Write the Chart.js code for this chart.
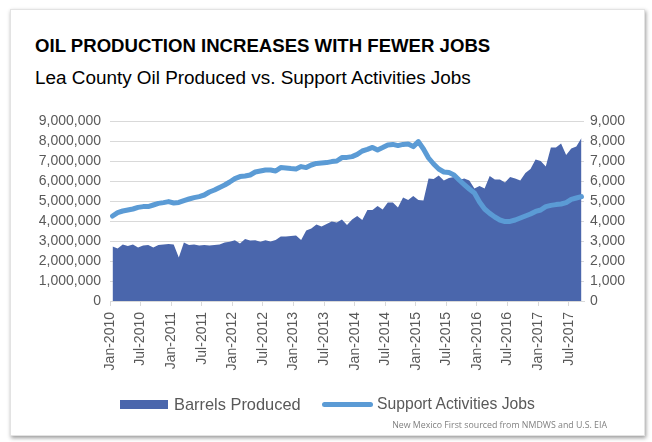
<!DOCTYPE html>
<html>
<head>
<meta charset="utf-8">
<script src="https://cdn.jsdelivr.net/npm/chart.js@4.4.1/dist/chart.umd.min.js"></script>
<style>
  html, body { margin:0; padding:0; background:#ffffff; }
  body { width:652px; height:442px; position:relative; overflow:hidden; font-family:"Liberation Sans", Arial, sans-serif; }
  #card { position:absolute; left:10px; top:9px; width:633px; height:425px; background:#fff; border:1px solid #e3e3e3; box-shadow:1px 2px 4px rgba(0,0,0,0.4); }
  .txt { position:absolute; white-space:nowrap; line-height:1; }
  #title { left:35px; top:36.5px; font-size:18.6px; font-weight:bold; color:#000; }
  #subtitle { left:35px; top:69px; font-size:18.9px; color:#000; }
  #wrap { position:absolute; left:0; top:0; width:652px; height:442px; }
  #legend { position:absolute; left:0; top:396px; width:652px; height:20px; font-size:16px; color:#595959; }
  .sw { position:absolute; }
  #source { right:45px; top:420.5px; font-family:"Open Sans", sans-serif; font-size:8.8px; color:#808080; }
</style>
</head>
<body>
<div id="card"></div>
<div id="title" class="txt">OIL PRODUCTION INCREASES WITH FEWER JOBS</div>
<div id="subtitle" class="txt">Lea County Oil Produced vs. Support Activities Jobs</div>
<div id="wrap"><canvas id="c" width="652" height="442"></canvas></div>
<div id="legend">
  <div class="sw" style="left:120px; top:4px; width:48px; height:9px; background:#4a66ac;"></div>
  <div class="txt" style="left:174px; top:0px; font-size:16.4px;">Barrels Produced</div>
  <div class="sw" style="left:322px; top:6px; width:51px; height:5px; border-radius:3px; background:#5b9bd5;"></div>
  <div class="txt" style="left:377px; top:0px; font-size:15.7px;">Support Activities Jobs</div>
</div>
<div id="source" class="txt">New Mexico First sourced from NMDWS and U.S. EIA</div>
<script>
const MONTHS = ['Jan','Feb','Mar','Apr','May','Jun','Jul','Aug','Sep','Oct','Nov','Dec'];
const YEARS = [2010, 2011, 2012, 2013, 2014, 2015, 2016, 2017];
const MONTH_COUNT = 93; // Jan-2010 .. Sep-2017

// Oil produced, barrels per month (Lea County)
const barrelsProduced = [
  2720000, 2630000, 2830000, 2750000, 2830000, 2680000, 2770000, 2800000, 2680000, 2800000, 2820000, 2850000,
  2830000, 2180000, 2920000, 2800000, 2830000, 2780000, 2800000, 2780000, 2800000, 2820000, 2930000, 2960000,
  3040000, 2870000, 3100000, 3020000, 3040000, 2960000, 3040000, 2970000, 3050000, 3220000, 3220000, 3250000,
  3280000, 3050000, 3520000, 3630000, 3830000, 3720000, 3850000, 3970000, 3920000, 4080000, 3800000, 4080000,
  4250000, 4050000, 4550000, 4550000, 4750000, 4580000, 4920000, 4920000, 4670000, 5180000, 5050000, 5250000,
  5050000, 5020000, 6130000, 6100000, 6280000, 6020000, 6150000, 6200000, 6050000, 6130000, 6020000, 5630000,
  5750000, 5630000, 6250000, 6080000, 6080000, 5920000, 6200000, 6130000, 6020000, 6400000, 6600000, 7080000,
  7000000, 6720000, 7670000, 7670000, 7880000, 7300000, 7620000, 7720000, 8150000
];

// Support activities for mining jobs
const supportJobs = [
  4250, 4420, 4500, 4550, 4600, 4680, 4720, 4720, 4800, 4880, 4920, 4970,
  4900, 4930, 5020, 5100, 5170, 5220, 5300, 5450, 5550, 5680, 5800, 5950,
  6120, 6220, 6250, 6300, 6450, 6500, 6550, 6550, 6500, 6670, 6650, 6620,
  6600, 6720, 6670, 6800, 6880, 6900, 6920, 6970, 7000, 7170, 7180, 7220,
  7330, 7500, 7580, 7680, 7550, 7670, 7800, 7830, 7770, 7830, 7850, 7720,
  7970, 7600, 7150, 6850, 6600, 6450, 6420, 6300, 6050, 5820, 5600, 5400,
  4950, 4600, 4380, 4200, 4050, 3970, 3980, 4050, 4150, 4250, 4350, 4480,
  4550, 4720, 4780, 4820, 4850, 4920, 5080, 5150, 5220
];

const leftTickStep = 1000000, leftMax = 9000000;
const rightTickStep = 1000, rightMax = 9000;
const labelEvery = 6;

const categories = [];
for (const y of YEARS) for (const m of MONTHS) {
  if (categories.length < MONTH_COUNT) categories.push(m + '-' + y);
}

const fmt = v => Number(v).toLocaleString('en-US');
const tickFont = { family: '"Liberation Sans", Arial, sans-serif', size: 14 };

new Chart(document.getElementById('c'), {
  type: 'line',
  data: {
    labels: categories,
    datasets: [
      {
        label: 'Support Activities Jobs',
        data: supportJobs,
        yAxisID: 'y2',
        borderColor: '#5b9bd5',
        borderWidth: 5,
        borderCapStyle: 'round',
        borderJoinStyle: 'round',
        pointRadius: 0,
        fill: false,
        tension: 0,
        order: 0
      },
      {
        label: 'Barrels Produced',
        data: barrelsProduced,
        yAxisID: 'y',
        backgroundColor: '#4a66ac',
        borderColor: 'rgba(0,0,0,0)',
        borderWidth: 0,
        pointRadius: 0,
        fill: 'origin',
        tension: 0,
        order: 1
      }
    ]
  },
  options: {
    responsive: false,
    animation: false,
    devicePixelRatio: 1,
    layout: { padding: { top: 121, left: 0, right: 0, bottom: 0 } },
    plugins: { legend: { display: false }, title: { display: false }, tooltip: { enabled: false } },
    scales: {
      x: {
        type: 'category',
        offset: true,
        afterFit: s => { s.height = 141; },
        grid: {
          offset: true,
          drawOnChartArea: false,
          drawTicks: true,
          tickLength: 5,
          color: ctx => (ctx.index % labelEvery === 0 ? '#d9d9d9' : 'rgba(0,0,0,0)')
        },
        border: { display: true, color: '#d9d9d9', width: 1 },
        ticks: {
          autoSkip: false,
          minRotation: 90,
          maxRotation: 90,
          padding: 6,
          labelOffset: -2.5,
          color: '#595959',
          font: tickFont,
          callback: (v, i) => (i % labelEvery === 0 ? categories[i] : '')
        }
      },
      y: {
        position: 'left',
        min: 0,
        max: leftMax,
        afterFit: s => { s.width = 110; },
        grid: { color: '#d9d9d9', drawTicks: false },
        border: { display: false },
        ticks: { stepSize: leftTickStep, padding: 9, color: '#595959', font: tickFont, callback: v => fmt(v) }
      },
      y2: {
        position: 'right',
        min: 0,
        max: rightMax,
        afterFit: s => { s.width = 68; },
        grid: { drawOnChartArea: false, drawTicks: false },
        border: { display: false },
        ticks: { stepSize: rightTickStep, padding: 6, color: '#595959', font: tickFont, callback: v => fmt(v) }
      }
    }
  }
});
</script>
</body>
</html>
